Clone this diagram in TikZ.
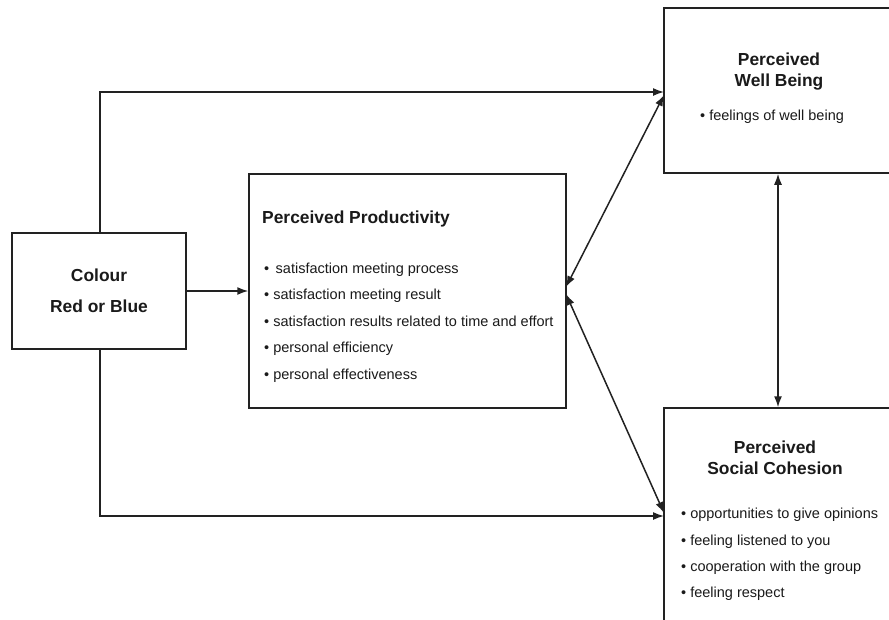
\documentclass[tikz,border=0pt]{standalone}
\usepackage{fontspec}
\setmainfont{Liberation Sans}
\usetikzlibrary{arrows.meta}
\definecolor{ln}{HTML}{222222}
\definecolor{tx}{HTML}{1A1A1A}
\begin{document}
\begin{tikzpicture}[x=1pt,y=-1pt,
  box/.style={draw=ln,line width=1.5pt,inner sep=0pt,fill=white},
  ttl/.style={font=\fontsize{17.4}{20}\selectfont\bfseries,text=tx,inner sep=0pt,anchor=base},
  itm/.style={font=\fontsize{14.5}{17}\selectfont,text=tx,inner sep=0pt,anchor=base west},
  arr/.style={draw=ln,line width=1.5pt,-{Latex[length=11pt,width=8pt]}},
  darr/.style={draw=ln,line width=1.5pt,{Latex[length=11pt,width=8pt]}-{Latex[length=11pt,width=8pt]}}]
\clip (0,0) rectangle (889,619);
\fill[white] (0,0) rectangle (889,619);

% boxes
\node[box,minimum width=174pt,minimum height=116pt] (colour) at (99,291) {};
\node[box,minimum width=317pt,minimum height=234pt] (prod) at (407.5,291) {};
\node[box,minimum width=246pt,minimum height=165pt] (wb) at (787,90.5) {};
\node[box,minimum width=246pt,minimum height=242pt] (sc) at (787,529) {};

% colour text
\node[ttl] (c1) at (99,281) {Colour};
\node[ttl] (c2) at (99,312) {Red or Blue};

% productivity text
\node[ttl,anchor=base west] (p0) at (262,223) {Perceived Productivity};
\node[itm] (p1) at (264,273) {•\ \,satisfaction meeting process};
\node[itm] (p2) at (264,299.5) {•\ satisfaction meeting result};
\node[itm] (p3) at (264,326) {•\ satisfaction results related to time and effort};
\node[itm] (p4) at (264,352.5) {•\ personal efficiency};
\node[itm] (p5) at (264,379) {•\ personal effectiveness};

% well being text
\node[ttl] (w1) at (779,65) {Perceived};
\node[ttl] (w2) at (779,86) {Well Being};
\node[itm] (w3) at (700,120) {•\ feelings of well being};

% social cohesion text
\node[ttl] (s1) at (775,453) {Perceived};
\node[ttl] (s2) at (775,474) {Social Cohesion};
\node[itm] (s3) at (681,518) {•\ opportunities to give opinions};
\node[itm] (s4) at (681,545) {•\ feeling listened to you};
\node[itm] (s5) at (681,571.5) {•\ cooperation with the group};
\node[itm] (s6) at (681,597.5) {•\ feeling respect};

% connector end points
\coordinate (wbin) at (664,92);
\coordinate (scin) at (664,516);
\coordinate (pu) at (566,287);
\coordinate (pd) at (566,294);
\coordinate (wbd) at (664,95);
\coordinate (scd) at (664,513);

% connectors
\draw[arr] ([xshift=1pt]colour.north) |- (wbin);
\draw[arr] ([xshift=1pt]colour.south) |- (scin);
\draw[arr] (colour.east) -- (prod.west);
\draw[darr] (pu) -- (wbd);
\draw[darr] (pd) -- (scd);
\draw[darr] ([xshift=-9pt]wb.south) -- ([xshift=-9pt]sc.north);
\end{tikzpicture}
\end{document}
